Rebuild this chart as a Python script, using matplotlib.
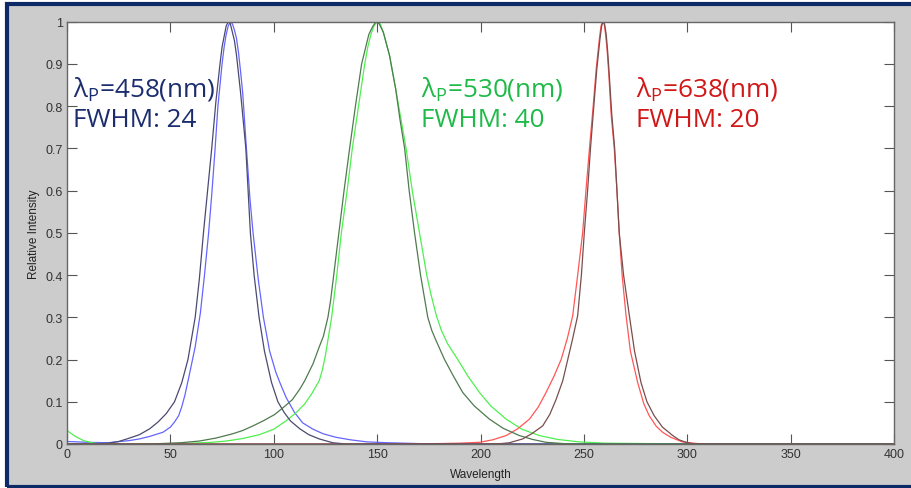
import matplotlib
matplotlib.use("Agg")
import matplotlib.pyplot as plt
from matplotlib.patches import Rectangle

# measured spectra (index along x, normalised intensity)
blue_x = [0, 10, 20, 30, 35, 40, 46.5, 50, 52, 54, 55.5, 57, 59, 62, 64.5, 66.5, 68.5, 70, 71.5, 73,
          75, 76, 77, 78, 79, 80, 81, 82, 83, 84, 85, 86.5, 88.5, 90, 92.5, 95, 98, 101, 103, 106,
          110, 114, 119, 124, 130, 137, 145, 155, 170, 180, 400]
blue_y = [0.006, 0.004, 0.003, 0.008, 0.012, 0.018, 0.028, 0.040, 0.052, 0.067, 0.088, 0.115, 0.16,
          0.23, 0.31, 0.40, 0.50, 0.59, 0.69, 0.80,
          0.90, 0.94, 0.97, 0.99, 1.0, 0.995, 0.98, 0.96, 0.925, 0.88, 0.83, 0.72, 0.58, 0.50, 0.39,
          0.30, 0.22, 0.17, 0.145, 0.11,
          0.075, 0.05, 0.035, 0.024, 0.016, 0.010, 0.005, 0.003, 0.001, 0.0, 0.0]

green_x = [0, 4, 8, 12, 16, 40, 60, 70, 77, 85, 93, 100, 106, 111, 115, 118.5, 120, 122, 123.5, 125,
           128, 130.5, 132.7, 135.5, 138, 141, 144, 145.5, 147, 148.5, 150, 151.5, 153, 156, 159,
           161.5, 164, 167, 170.5, 174, 176, 178.6, 181, 184, 189, 194, 199.5, 205, 212.4, 220,
           228.5, 237, 247.8, 260, 280, 300, 400]
green_y = [0.032, 0.018, 0.008, 0.003, 0.0, 0.0, 0.002, 0.004, 0.007, 0.013, 0.022, 0.035, 0.055, 0.075,
           0.095, 0.12, 0.133, 0.15, 0.175, 0.21,
           0.30, 0.40, 0.50, 0.60, 0.70, 0.80, 0.90, 0.94, 0.97, 0.99, 1.0, 0.995, 0.975, 0.92, 0.84,
           0.77, 0.70, 0.60, 0.50, 0.40, 0.355, 0.305, 0.27, 0.238, 0.20, 0.16, 0.122, 0.09, 0.059,
           0.035, 0.020, 0.011, 0.005, 0.002, 0.001, 0.0, 0.0]

red_x = [0, 150, 180, 190, 199.5, 206, 212.4, 218, 223.7, 228, 231.7, 235.5, 239, 242, 244.6, 247,
         249.4, 251, 252.7, 254.5, 256, 257.5, 258.3, 259, 259.8, 260.5, 261.2, 262, 263.2, 264.7,
         266, 267.1, 268.5, 270.4, 272.5, 276, 279, 281.6, 285, 288, 292, 297.6, 305, 320, 400]
red_y = [0.0, 0.0, 0.001, 0.002, 0.004, 0.010, 0.020, 0.036, 0.059, 0.088, 0.122, 0.16, 0.20, 0.25,
         0.304, 0.40, 0.50, 0.60, 0.70, 0.80, 0.89, 0.96, 0.99, 1.0, 0.995, 0.97, 0.935, 0.88, 0.78,
         0.70, 0.60, 0.50, 0.40, 0.304, 0.22, 0.146, 0.095, 0.067, 0.042, 0.028, 0.016, 0.005, 0.001,
         0.0, 0.0]

# fitted curves
blue_fit_x = [0, 15, 20, 25, 29, 35, 40, 44, 48, 52, 55.5, 58.5, 62, 64, 66, 68, 70, 72, 74, 75, 76,
              77, 78, 79, 80, 81, 82, 84, 86.5, 88.7, 90.5, 92.9, 95.5, 98.9, 102, 105, 108, 112.6,
              117, 122, 128.5, 135, 400]
blue_fit_y = [0.0, 0.0, 0.002, 0.006, 0.012, 0.022, 0.036, 0.052, 0.072, 0.10, 0.145, 0.20, 0.30, 0.39,
              0.50, 0.60, 0.70, 0.81, 0.90, 0.94, 0.965, 0.99, 1.0, 0.995, 0.975, 0.955, 0.92, 0.83,
              0.70, 0.50, 0.40, 0.30, 0.22, 0.146, 0.10, 0.075, 0.055, 0.036, 0.022, 0.012, 0.003,
              0.0, 0.0]

green_fit_x = [0, 40, 55, 64, 72, 80, 85, 90, 95, 100.5, 105, 109, 112.6, 115, 119, 122, 124, 126.2,
               127.5, 129, 131.5, 134, 136.7, 139.5, 142.5, 146, 148, 149.5, 151, 153, 156, 159, 161,
               163.3, 165.5, 168.1, 171, 174.5, 176.5, 178.5, 182.6, 187, 191.4, 197, 204.3, 211,
               218.8, 225, 231.7, 240, 250, 400]
green_fit_y = [0.0, 0.0, 0.003, 0.007, 0.014, 0.024, 0.032, 0.043, 0.055, 0.07, 0.088, 0.105, 0.13,
               0.15, 0.19, 0.23, 0.255, 0.30, 0.34, 0.40, 0.50, 0.60, 0.70, 0.80, 0.90, 0.97, 0.99,
               1.0, 0.995, 0.975, 0.92, 0.84, 0.77, 0.70, 0.60, 0.50, 0.40, 0.30, 0.268, 0.245, 0.20,
               0.16, 0.122, 0.09, 0.059, 0.037, 0.020, 0.011, 0.004, 0.001, 0.0, 0.0]

red_fit_x = [0, 200, 210, 214, 220.4, 225, 230.1, 233.5, 236.6, 239.8, 242.2, 244.6, 247, 248.8, 250.2,
             251.8, 253.2, 254.8, 256.3, 257.8, 258.6, 259.3, 260, 260.8, 261.5, 262.2, 263.5, 264.9,
             266, 267.1, 269.2, 272, 274.5, 277.6, 280.5, 284, 288, 293, 296, 299.4, 303, 400]
red_fit_y = [0.0, 0.0, 0.001, 0.003, 0.012, 0.025, 0.043, 0.07, 0.106, 0.15, 0.20, 0.25, 0.304, 0.40,
             0.50, 0.60, 0.70, 0.80, 0.89, 0.96, 0.99, 1.0, 0.995, 0.97, 0.93, 0.88, 0.78, 0.70, 0.60,
             0.50, 0.40, 0.304, 0.22, 0.146, 0.10, 0.067, 0.04, 0.02, 0.01, 0.004, 0.0, 0.0]

peaks = ["458", "530", "638"]
fwhm = ["24", "40", "20"]
label_x = [2.9, 171.4, 275.2]
label_col = ["#1b2d6e", "#1fba48", "#d01818"]

fig = plt.figure(figsize=(9.12, 4.89), dpi=100)
fig.patch.set_facecolor("white")

# grey figure panel with navy frame (open on the right)
fig.patches.append(Rectangle((7 / 912, 1.5 / 489), 1.05, 482.2 / 489, transform=fig.transFigure,
                             facecolor="#cccccc", edgecolor="none", zorder=-5))
fig.patches.append(Rectangle((7 / 912, 1.5 / 489), 1.05, 482.2 / 489, transform=fig.transFigure,
                             facecolor="none", edgecolor="#0d2a66", linewidth=3, zorder=-4))

ax = fig.add_axes([67 / 912, 1 - 445 / 489, (894 - 67) / 912, (445 - 22.7) / 489])
ax.set_facecolor("white")

lw = 0.9
ax.plot(blue_x, blue_y, color="#6565ff", lw=lw)
ax.plot(green_x, green_y, color="#4ff04f", lw=lw)
ax.plot(red_x, red_y, color="#ff5656", lw=lw)
ax.plot(blue_fit_x, blue_fit_y, color="#4a4a70", lw=lw)
ax.plot(green_fit_x, green_fit_y, color="#4f7a4f", lw=lw)
ax.plot(red_fit_x, red_fit_y, color="#7a4d4d", lw=lw)

ax.set_xlim(0, 400)
ax.set_ylim(0, 1)
ax.set_xticks(range(0, 401, 50))
ax.set_yticks([i / 10 for i in range(11)])
ax.set_yticklabels(["0"] + ["0.%d" % i for i in range(1, 10)] + ["1"])
ax.tick_params(direction="in", length=7, width=0.8, color="#555555", labelcolor="#333333",
               labelsize=9, top=True, right=True, pad=3)
for lab in ax.get_xticklabels() + ax.get_yticklabels():
    lab.set_family("Liberation Sans")
for s in ax.spines.values():
    s.set_color("#666666")
    s.set_linewidth(1.0)

ax.set_xlabel("Wavelength", fontsize=8.5, family="Liberation Sans", color="#222222", labelpad=6)
ax.set_ylabel("Relative Intensity", fontsize=8.5, family="Liberation Sans", color="#222222",
              labelpad=4)

for x, p, w, c in zip(label_x, peaks, fwhm, label_col):
    ax.text(x, 0.826, "λ$_\\mathregular{P}$=" + p + "(nm)", color=c, fontsize=18.8,
            family="Open Sans", va="baseline")
    ax.text(x, 0.752, "FWHM: " + w, color=c, fontsize=18.8, family="Open Sans", va="baseline")

fig.savefig("out.png", dpi=100, facecolor=fig.get_facecolor())
